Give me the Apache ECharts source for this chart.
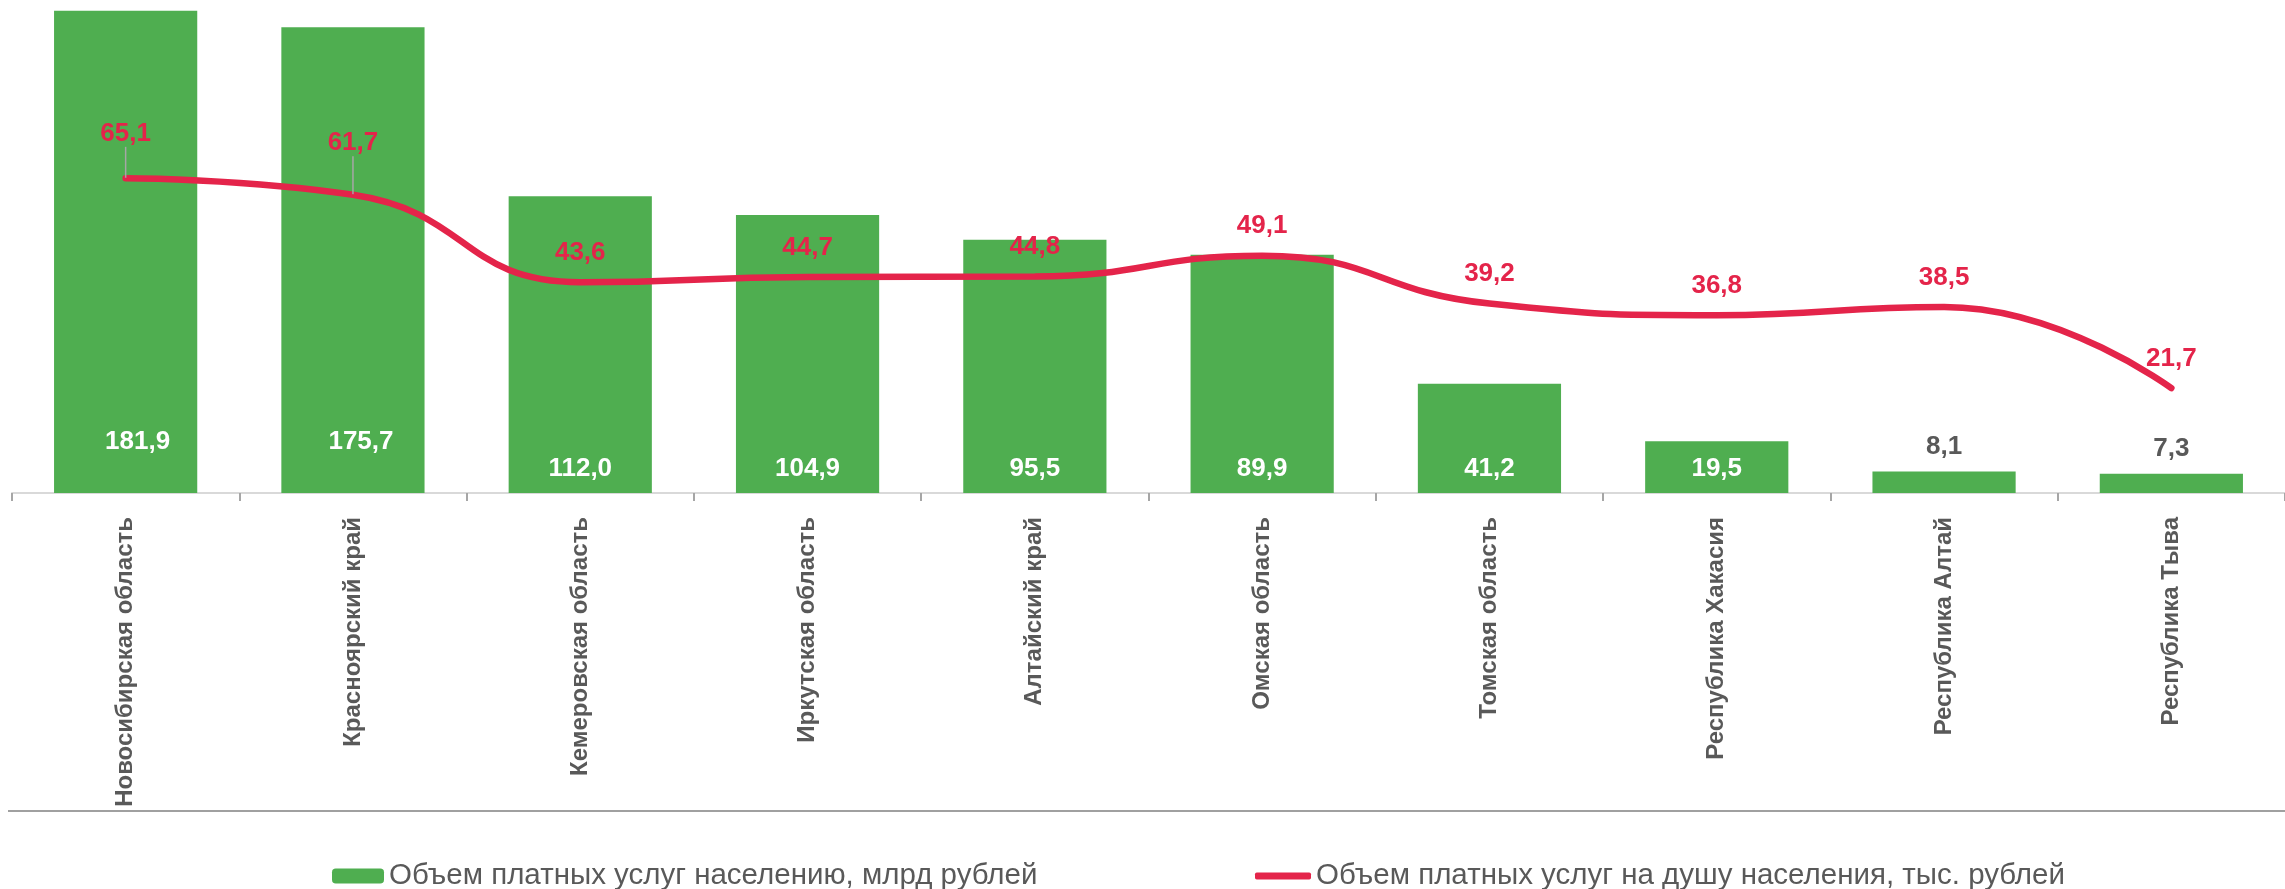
<!DOCTYPE html>
<html>
<head>
<meta charset="utf-8">
<script src="https://cdn.jsdelivr.net/npm/echarts@6/dist/echarts.min.js"></script>
<style>
  html, body { margin: 0; padding: 0; background: #fff; }
  #main { width: 2285px; height: 889px; }
</style>
</head>
<body>
<div id="main"></div>
<script>
// категории и значения
var regions = [
  "Новосибирская область",
  "Красноярский край",
  "Кемеровская область",
  "Иркутская область",
  "Алтайский край",
  "Омская область",
  "Томская область",
  "Республика Хакасия",
  "Республика Алтай",
  "Республика Тыва"
];
var volumeBn = [181.9, 175.7, 112.0, 104.9, 95.5, 89.9, 41.2, 19.5, 8.1, 7.3];
var perCapitaTh = [65.1, 61.7, 43.6, 44.7, 44.8, 49.1, 39.2, 36.8, 38.5, 21.7];
var seriesNames = [
  "Объем платных услуг населению, млрд рублей",
  "Объем платных услуг на душу населения, тыс. рублей"
];

var GREEN = "#4FAE50";
var RED = "#E4244A";
var GRAY = "#595959";
var FONT = "'Liberation Sans', Arial, sans-serif";

var fmt = function (v) {
  return v.toFixed(1).replace(".", ",");
};

var chartDom = document.getElementById("main");
var myChart = echarts.init(chartDom);

// подписи столбцов: маленькие значения над столбцом
var barData = volumeBn.map(function (v, i) {
  var item = { value: v };
  if (v < 15) {
    item.label = { position: "top", color: GRAY, distance: 12 };
  } else if (i === 0) {
    item.label = { offset: [12, -27] };
  } else if (i === 1) {
    item.label = { offset: [8, -27] };
  }
  return item;
});

// первые две подписи линии сдвинуты вверх, с выноской
var lineData = perCapitaTh.map(function (v, i) {
  if (i < 2) {
    return { value: v, labelLine: { show: true } };
  }
  return v;
});
var lineShift = { 0: -15, 1: -22 };

var option = {
  animation: false,
  grid: {
    left: 12,
    right: -12,
    top: 0,
    bottom: 396
  },
  legend: [
    {
      data: [seriesNames[0]],
      left: 332,
      top: 861,
      padding: 0,
      itemWidth: 52,
      itemHeight: 15,
      textStyle: { fontFamily: FONT, fontSize: 29.5, color: GRAY }
    },
    {
      data: [{ name: seriesNames[1], icon: "roundRect" }],
      left: 1255,
      top: 861,
      padding: 0,
      itemWidth: 56,
      itemHeight: 7,
      textStyle: { fontFamily: FONT, fontSize: 29.5, color: GRAY }
    }
  ],
  xAxis: {
    type: "category",
    data: regions,
    axisLine: { lineStyle: { color: "#D9D9D9", width: 2 } },
    axisTick: {
      show: true,
      length: 8,
      lineStyle: { color: "#A6A6A6", width: 2 }
    },
    axisLabel: {
      rotate: 90,
      margin: 24,
      interval: 0,
      fontFamily: FONT,
      fontSize: 24,
      fontWeight: "bold",
      color: GRAY
    }
  },
  yAxis: [
    { type: "value", min: 0, max: 186, show: false },
    { type: "value", min: 0, max: 102, show: false }
  ],
  series: [
    {
      name: seriesNames[0],
      type: "bar",
      yAxisIndex: 0,
      barWidth: "63%",
      itemStyle: { color: GREEN },
      label: {
        show: true,
        position: "insideBottom",
        distance: 11,
        color: "#fff",
        fontFamily: FONT,
        fontSize: 26,
        fontWeight: "bold",
        formatter: function (p) {
          return fmt(p.value);
        }
      },
      data: barData
    },
    {
      name: seriesNames[1],
      type: "line",
      yAxisIndex: 1,
      smooth: 0.5,
      symbol: "circle",
      symbolSize: 1,
      showSymbol: true,
      lineStyle: { color: RED, width: 6.5, cap: "round" },
      itemStyle: { color: RED },
      label: {
        show: true,
        position: "top",
        distance: 16,
        color: RED,
        fontFamily: FONT,
        fontSize: 26,
        fontWeight: "bold",
        formatter: function (p) {
          return fmt(p.value);
        }
      },
      labelLine: {
        show: false,
        lineStyle: { color: "#A6A6A6", width: 1.5 }
      },
      labelLayout: function (params) {
        if (lineShift[params.dataIndex] !== undefined) {
          return { dy: lineShift[params.dataIndex] };
        }
        return {};
      },
      data: lineData
    }
  ],
  graphic: [
    {
      type: "line",
      shape: { x1: 8, y1: 811, x2: 2285, y2: 811 },
      style: { stroke: "#A0A0A0", lineWidth: 2 },
      silent: true
    }
  ]
};

if (option && typeof option === "object") {
  myChart.setOption(option);
}
window.onresize = function () {
  myChart.resize();
};
</script>
</body>
</html>
